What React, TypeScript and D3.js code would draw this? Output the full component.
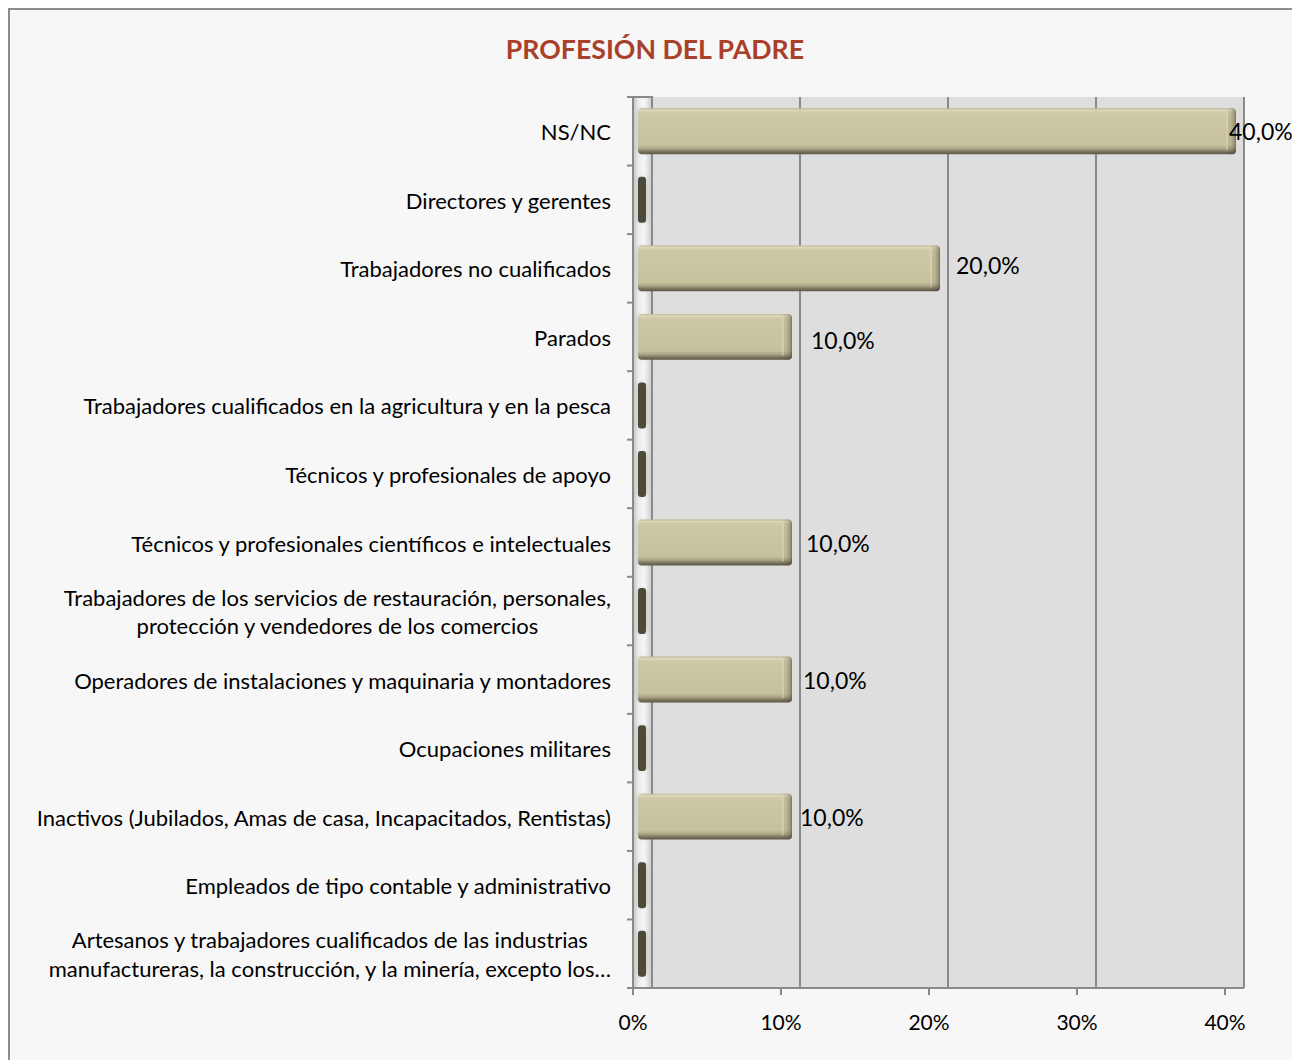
import React, { useEffect, useRef } from "react";
import * as d3 from "d3";

const categories: string[][] = [
  ["NS/NC"],
  ["Directores y gerentes"],
  ["Trabajadores no cualificados"],
  ["Parados"],
  ["Trabajadores cualificados en la agricultura y en la pesca"],
  ["Técnicos y profesionales de apoyo"],
  ["Técnicos y profesionales científicos e intelectuales"],
  ["Trabajadores de los servicios de restauración, personales,", "protección y vendedores de los comercios"],
  ["Operadores de instalaciones y maquinaria y montadores"],
  ["Ocupaciones militares"],
  ["Inactivos (Jubilados, Amas de casa, Incapacitados, Rentistas)"],
  ["Empleados de tipo contable y administrativo"],
  ["Artesanos y trabajadores cualificados de las industrias", "manufactureras, la construcción, y la minería, excepto los…"],
];
const values: number[] = [0.4, 0, 0.2, 0.1, 0, 0, 0.1, 0, 0.1, 0, 0.1, 0, 0];
const valueLabels: string[] = ["40,0%", "", "20,0%", "10,0%", "", "", "10,0%", "", "10,0%", "", "10,0%", "", ""];
const xTicks: number[] = [0, 0.1, 0.2, 0.3, 0.4];
const xTickLabels: string[] = ["0%", "10%", "20%", "30%", "40%"];
const title = "PROFESIÓN DEL PADRE";
// label nudges (layout only)
const labelDx: number[] = [-7, 0, 16, 19, 0, 0, 14, 0, 11, 0, 8, 0, 0];
const labelDy: number[] = [1, 0, -2, 4, 0, 0, 1, 0, 1, 0, 1, 0, 0];

const FONT = "Lato, 'Open Sans', sans-serif";

export default function App() {
  const ref = useRef<SVGSVGElement>(null);
  useEffect(() => {
    document.body.style.margin = "0";
    const svg = d3.select(ref.current);
    svg.selectAll("*").remove();
    const W = 1292, H = 1060;
    const x = d3.scaleLinear().domain([0, 0.4]).range([633, 1225]);
    const depth = 19;
    const top = 97, bottom = 988;
    const idx = categories.map((_, i) => String(i));
    const y = d3.scaleBand().domain(idx).range([top, bottom]).paddingInner(0.33).paddingOuter(0.165);
    const yb = d3.scaleBand().domain(idx).range([top, bottom]);

    const defs = svg.append("defs");
    const wallG = defs.append("linearGradient").attr("id", "wallG").attr("x1", 0).attr("x2", 1).attr("y1", 0).attr("y2", 0);
    [["0", "#c4c4c4"], ["0.3", "#ededed"], ["0.6", "#f6f6f6"], ["1", "#cacaca"]].forEach(([o, c]) =>
      wallG.append("stop").attr("offset", o).attr("stop-color", c));
    const barG = defs.append("linearGradient").attr("id", "barG").attr("x1", 0).attr("x2", 0).attr("y1", 0).attr("y2", 1);
    [["0", "#b9b491"], ["0.04", "#ddd8ba"], ["0.1", "#cdc8a5"], ["0.8", "#c6c19d"], ["0.88", "#aaa585"], ["0.94", "#7c7860"], ["1", "#5a5646"]].forEach(([o, c]) =>
      barG.append("stop").attr("offset", o).attr("stop-color", c));
    const capG = defs.append("linearGradient").attr("id", "capG").attr("x1", 0).attr("x2", 1).attr("y1", 0).attr("y2", 0);
    [["0", "#000000", "0"], ["0.5", "#3a3626", "0.12"], ["0.85", "#3a3626", "0.35"], ["1", "#2a271c", "0.55"]].forEach(([o, c, op]) =>
      capG.append("stop").attr("offset", o).attr("stop-color", c).attr("stop-opacity", op));
    const blur = defs.append("filter").attr("id", "blur").attr("x", "-50%").attr("y", "-20%").attr("width", "200%").attr("height", "140%");
    blur.append("feGaussianBlur").attr("stdDeviation", 2.5);

    // outer frame
    svg.append("rect").attr("x", 0).attr("y", 0).attr("width", W).attr("height", H).attr("fill", "#ffffff");
    svg.append("rect").attr("x", 9).attr("y", 9).attr("width", 1300).attr("height", 1100)
      .attr("fill", "#f7f7f7").attr("stroke", "#8c8c8c").attr("stroke-width", 2);

    // title
    svg.append("text").attr("x", 655).attr("y", 59).attr("text-anchor", "middle")
      .attr("font-family", FONT).attr("font-weight", "bold").attr("font-size", 26.7)
      .attr("fill", "#a9402a").text(title);

    // back wall
    svg.append("rect").attr("x", 633 + depth).attr("y", top).attr("width", x(0.4) - x(0)).attr("height", bottom - top)
      .attr("fill", "#dedede");
    // gridlines
    xTicks.forEach((t) => {
      svg.append("line").attr("x1", x(t) + depth).attr("x2", x(t) + depth).attr("y1", top).attr("y2", bottom)
        .attr("stroke", "#8a8a8a").attr("stroke-width", 2);
    });
    // left wall
    svg.append("rect").attr("x", x(0)).attr("y", top).attr("width", depth).attr("height", bottom - top)
      .attr("fill", "url(#wallG)").attr("stroke", "#8a8a8a").attr("stroke-width", 2);
    // blurred shadows in wall
    categories.forEach((_, i) => {
      svg.append("rect").attr("x", x(0) + 5).attr("y", (y(String(i)) as number) + 2).attr("width", 9)
        .attr("height", y.bandwidth() - 4).attr("fill", "#9a9a9a").attr("opacity", 0.5).attr("filter", "url(#blur)");
    });
    // floor line
    svg.append("line").attr("x1", x(0)).attr("x2", x(0.4) + depth).attr("y1", bottom).attr("y2", bottom)
      .attr("stroke", "#8a8a8a").attr("stroke-width", 2);

    // y ticks
    for (let i = 0; i <= categories.length; i++) {
      const yy = i < categories.length ? (yb(String(i)) as number) : bottom;
      svg.append("line").attr("x1", x(0) - 6).attr("x2", x(0)).attr("y1", yy).attr("y2", yy)
        .attr("stroke", "#8a8a8a").attr("stroke-width", 2);
    }
    // x ticks + labels
    xTicks.forEach((t, i) => {
      svg.append("line").attr("x1", x(t)).attr("x2", x(t)).attr("y1", bottom).attr("y2", bottom + 7)
        .attr("stroke", "#8a8a8a").attr("stroke-width", 2);
      svg.append("text").attr("x", x(t)).attr("y", 1030).attr("text-anchor", "middle")
        .attr("font-family", FONT).attr("font-size", 21).attr("fill", "#000").text(xTickLabels[i]);
    });

    // bars
    values.forEach((v, i) => {
      const by = y(String(i)) as number;
      const bh = y.bandwidth();
      const x0 = x(0) + 5;
      if (v <= 0) {
        svg.append("rect").attr("x", x0).attr("y", by).attr("width", 8).attr("height", bh)
          .attr("rx", 3).attr("fill", "#4e4a3a");
        return;
      }
      const x1 = x(v) + 11;
      svg.append("rect").attr("x", x0).attr("y", by).attr("width", x1 - x0).attr("height", bh)
        .attr("rx", 4).attr("fill", "url(#barG)");
      svg.append("rect").attr("x", x1 - 10).attr("y", by).attr("width", 10).attr("height", bh)
        .attr("rx", 4).attr("fill", "url(#capG)");
      svg.append("line").attr("x1", x1 - 9).attr("x2", x1 - 9).attr("y1", by + 3).attr("y2", by + bh - 4)
        .attr("stroke", "#ebe7cc").attr("stroke-width", 1).attr("opacity", 0.7);
      svg.append("text").attr("x", x1 + labelDx[i]).attr("y", by + bh / 2 + 8 + labelDy[i])
        .attr("font-family", FONT).attr("font-size", 23).attr("fill", "#000").text(valueLabels[i]);
    });

    // category labels
    const rightX = 611;
    const FS = 22;
    categories.forEach((lines, i) => {
      const cy = (yb(String(i)) as number) + yb.bandwidth() / 2 + 2;
      if (lines.length === 1) {
        svg.append("text").attr("x", rightX).attr("y", cy + 7).attr("text-anchor", "end")
          .attr("font-family", FONT).attr("font-size", FS).attr("fill", "#000").text(lines[0]);
      } else {
        const lh = 28.5;
        const g = svg.append("g");
        const ts = lines.map((l, k) =>
          g.append("text").attr("y", cy + 7 + (k - (lines.length - 1) / 2) * lh).attr("text-anchor", "middle")
            .attr("font-family", FONT).attr("font-size", FS).attr("fill", "#000").text(l));
        const maxW = d3.max(ts, (t) => (t.node() as SVGTextElement).getComputedTextLength()) || 0;
        ts.forEach((t) => t.attr("x", rightX - maxW / 2));
      }
    });
  }, []);
  return <svg ref={ref} width={1292} height={1060} style={{ display: "block" }} />;
}
